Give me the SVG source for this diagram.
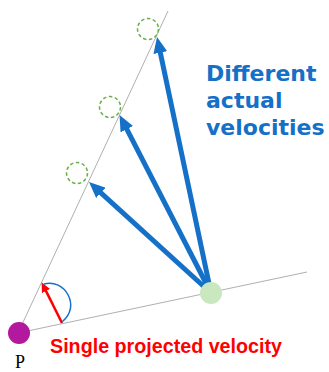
<svg xmlns="http://www.w3.org/2000/svg" width="329" height="372" viewBox="0 0 329 372">
<style>
.guide{stroke:#b0b0b0;stroke-width:1;fill:none}
.vel{stroke:#1570c8;stroke-width:5;fill:none}
.dash{fill:none;stroke:#6aaf48;stroke-width:1.5;stroke-dasharray:3.5,2.5}
.blue{font-family:"DejaVu Sans",sans-serif;font-weight:bold;font-size:22px;fill:#1570c8}
.red{font-family:"Liberation Sans",Arial,sans-serif;font-weight:bold;font-size:19.5px;fill:#ff0000}
</style>
<defs>
<marker id="bh" markerUnits="userSpaceOnUse" markerWidth="16" markerHeight="14" viewBox="0 -7 16 14" refX="4" refY="0" orient="auto">
<path d="M0,-7 L16,0 L0,7 z" fill="#1570c8"/>
</marker>
<marker id="rh" markerUnits="userSpaceOnUse" markerWidth="10" markerHeight="10" viewBox="0 -5 10 10" refX="3" refY="0" orient="auto">
<path d="M0,-4.5 L10,0 L0,4.5 z" fill="#ff0000"/>
</marker>
</defs>
<g id="connectors">
<line class="guide" x1="18" y1="333" x2="168" y2="11"/>
<line class="guide" x1="18" y1="333" x2="307" y2="272"/>
<line class="vel" x1="211" y1="293" x2="159.5" y2="48.7" marker-end="url(#bh)"/>
<line class="vel" x1="211" y1="293" x2="125" y2="125.7" marker-end="url(#bh)"/>
<line class="vel" x1="211" y1="293" x2="97.9" y2="190.1" marker-end="url(#bh)"/>
<line x1="62" y1="323" x2="44.7" y2="288.4" stroke="#ff0000" stroke-width="2.5" marker-end="url(#rh)"/>
<path d="M44,284 C64,278 82,306 62,322" fill="none" stroke="#1570c8" stroke-width="1.5"/>
</g>
<g id="ghost1"><circle class="dash" cx="148" cy="29" r="10.5"/></g>
<g id="ghost2"><circle class="dash" cx="110" cy="107" r="10.5"/></g>
<g id="ghost3"><circle class="dash" cx="77" cy="173" r="10.5"/></g>
<g id="source"><circle cx="211" cy="293" r="11" fill="#c9e8c0"/></g>
<g id="P">
<circle cx="19" cy="333" r="11" fill="#b3199f"/>
<text x="20" y="368" text-anchor="middle" font-family="Liberation Serif,serif" font-size="18" fill="#000">P</text>
</g>
<g id="label-actual">
<text class="blue" x="206" y="81">Different</text>
<text class="blue" x="206" y="108">actual</text>
<text class="blue" x="206" y="135">velocities</text>
</g>
<g id="label-projected">
<text class="red" x="50" y="353" textLength="232" lengthAdjust="spacingAndGlyphs">Single projected velocity</text>
</g>
</svg>
